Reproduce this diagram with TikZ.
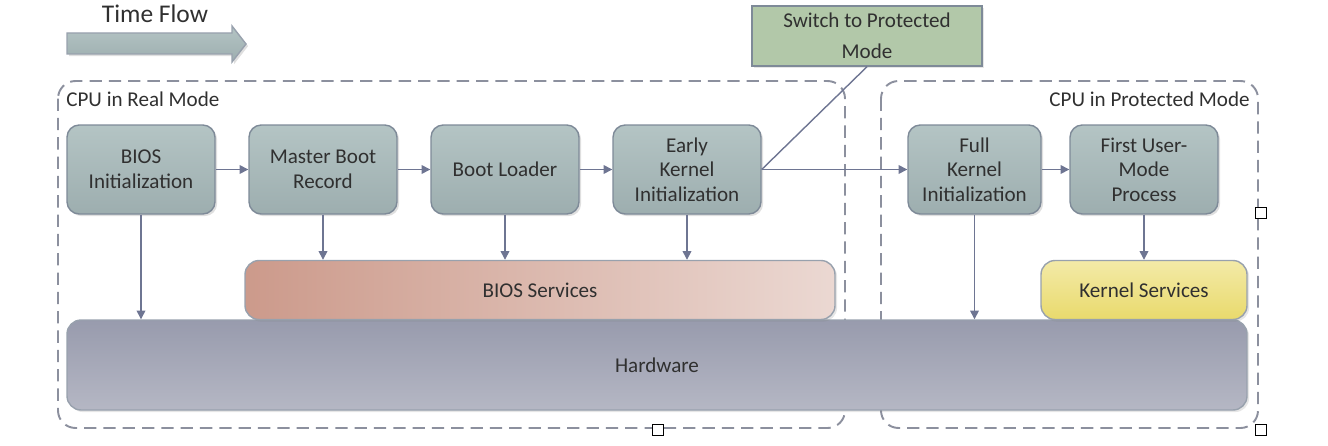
\documentclass[tikz,border=0pt]{standalone}
\usepackage{fontspec}
\setmainfont{Carlito}
\usetikzlibrary{arrows.meta,shadows}
\definecolor{boxtop}{HTML}{B4C4C4}
\definecolor{boxbot}{HTML}{9DAEAF}
\definecolor{boxedge}{HTML}{7E8A98}
\definecolor{arr}{HTML}{6E7592}
\definecolor{dash}{HTML}{8C909E}
\definecolor{txt}{HTML}{303030}
\definecolor{hwtop}{HTML}{989BAD}
\definecolor{hwbot}{HTML}{B5B7C4}
\definecolor{bsleft}{HTML}{CC9A8B}
\definecolor{bsmid}{HTML}{D4A899}
\definecolor{bsright}{HTML}{EBD8D2}
\definecolor{kstop}{HTML}{F3EAA8}
\definecolor{ksbot}{HTML}{E9DA6C}
\definecolor{swfill}{HTML}{B2C8A9}
\tikzset{
  procbox/.style={draw=boxedge, line width=0.8pt, rounded corners=7pt,
    top color=boxtop, bottom color=boxbot, align=center, text=txt,
    font=\fontsize{12}{14}\selectfont, inner sep=0pt,
    drop shadow={shadow xshift=1.2pt, shadow yshift=-1.2pt, opacity=0.25}},
  layerbox/.style={draw=boxedge!80, line width=0.8pt, rounded corners=8pt,
    text=txt, font=\fontsize{12}{14}\selectfont, inner sep=0pt,
    drop shadow={shadow xshift=1.2pt, shadow yshift=-1.2pt, opacity=0.2}},
  flow/.style={draw=arr, line width=0.8pt, -{Triangle[length=5pt,width=5pt]}},
  region/.style={draw=dash, line width=1.1pt, dash pattern=on 7pt off 4pt, rounded corners=10pt},
  handle/.style={draw=black, fill=white, line width=0.6pt, minimum size=6pt, inner sep=0pt},
  lbl/.style={text=txt, font=\fontsize{12}{14}\selectfont, inner sep=0pt}
}
\begin{document}
\begin{tikzpicture}[x=0.02cm,y=-0.02cm]
\useasboundingbox (0,0) rectangle (1328,446);
% regions
\draw[region] (58,81) rectangle (845,428);
\draw[region] (881,81) rectangle (1258,428);
\node[lbl, anchor=west] (realmode) at (66,99) {CPU in Real Mode};
\node[lbl, anchor=east] (protmode) at (1250,99) {CPU in Protected Mode};
% time flow
\node[text=txt, font=\fontsize{14.5}{16}\selectfont, inner sep=0pt] (timeflow) at (155,14) {Time Flow};
\draw[draw=boxedge!80, line width=0.8pt, top color=boxtop, bottom color=boxbot,
  drop shadow={shadow xshift=1.2pt, shadow yshift=-1.2pt, opacity=0.25}]
  (67,33) -- (232,33) -- (232,26) -- (246,44) -- (232,62) -- (232,54) -- (67,54) -- cycle;
% layers
\node[layerbox, top color=hwtop, bottom color=hwbot, minimum width=1180*0.02cm, minimum height=90*0.02cm] (hw) at (657,365) {Hardware};
\node[layerbox, left color=bsleft, middle color=bsmid, right color=bsright, minimum width=590*0.02cm, minimum height=59*0.02cm] (biossrv) at (540,290) {BIOS Services};
\node[layerbox, top color=kstop, bottom color=ksbot, minimum width=206*0.02cm, minimum height=59*0.02cm] (kernsrv) at (1144,290) {Kernel Services};
% process boxes
\node[procbox, minimum width=148*0.02cm, minimum height=89*0.02cm] (bios) at (141,169.5) {BIOS\\Initialization};
\node[procbox, minimum width=148*0.02cm, minimum height=89*0.02cm] (mbr) at (323,169.5) {Master Boot\\Record};
\node[procbox, minimum width=148*0.02cm, minimum height=89*0.02cm] (boot) at (505,169.5) {Boot Loader};
\node[procbox, minimum width=148*0.02cm, minimum height=89*0.02cm] (early) at (687,169.5) {Early\\Kernel\\Initialization};
\node[procbox, minimum width=133*0.02cm, minimum height=89*0.02cm] (full) at (974.5,169.5) {Full\\Kernel\\Initialization};
\node[procbox, minimum width=148*0.02cm, minimum height=89*0.02cm] (first) at (1144,169.5) {First User-\\Mode\\Process};
\node[draw=boxedge, line width=0.8pt, fill=swfill, text=txt, align=center,
  font=\fontsize{12}{17.5}\selectfont, inner sep=0pt, minimum width=230*0.02cm, minimum height=60*0.02cm,
  drop shadow={shadow xshift=1.2pt, shadow yshift=-1.2pt, opacity=0.2}] (switch) at (867,36) {Switch to Protected\\Mode};
% connectors
\draw[flow] (bios) -- (mbr);
\draw[flow] (mbr) -- (boot);
\draw[flow] (boot) -- (early);
\draw[flow] (early) -- (full);
\draw[flow] (full) -- (first);
\draw[draw=arr, line width=0.8pt] (early.east) -- (switch.south);
\draw[flow] (bios.south) -- (bios.south |- hw.north);
\draw[flow] (mbr.south) -- (mbr.south |- biossrv.north);
\draw[flow] (boot.south) -- (boot.south |- biossrv.north);
\draw[flow] (early.south) -- (early.south |- biossrv.north);
\draw[flow] (full.south) -- (full.south |- hw.north);
\draw[flow] (first.south) -- (first.south |- kernsrv.north);
% selection handles
\node[handle] (h1) at (1261,213) {};
\node[handle] (h2) at (658,430) {};
\node[handle] (h3) at (1261,430) {};
\end{tikzpicture}
\end{document}
